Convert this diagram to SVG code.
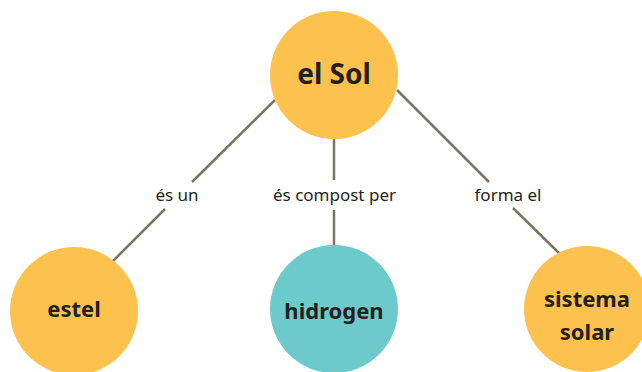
<svg xmlns="http://www.w3.org/2000/svg" width="642" height="372" viewBox="0 0 642 372">
<style>
.orange{fill:#FDC14D}
.teal{fill:#6CCACA}
.node{font-family:"Noto Sans","Open Sans",sans-serif;font-weight:bold;fill:#231F20;text-anchor:middle}
.lbl{font-family:"Noto Sans","Open Sans",sans-serif;font-size:17px;fill:#231F20;text-anchor:middle}
.ln{stroke:#77775F;stroke-width:2.5;fill:none}
</style>
<rect width="642" height="372" fill="#ffffff"/>
<g id="connectors">
<line class="ln" x1="275" y1="100" x2="192" y2="182"/>
<line class="ln" x1="165" y1="209" x2="110" y2="264"/>
<line class="ln" x1="334" y1="130" x2="334" y2="180"/>
<line class="ln" x1="334" y1="210" x2="334" y2="250"/>
<line class="ln" x1="397" y1="90" x2="489" y2="182"/>
<line class="ln" x1="513" y1="208" x2="562" y2="256"/>
<text class="lbl" x="177" y="201">és un</text>
<text class="lbl" x="334.5" y="201">és compost per</text>
<text class="lbl" x="508" y="201">forma el</text>
</g>
<g id="node-sol">
<circle class="orange" cx="334" cy="75" r="64"/>
<text class="node" x="334" y="84" font-size="28">el Sol</text>
</g>
<g id="node-estel">
<circle class="orange" cx="74" cy="311" r="64"/>
<text class="node" x="74" y="317" font-size="22">estel</text>
</g>
<g id="node-hidrogen">
<circle class="teal" cx="334" cy="309" r="64"/>
<text class="node" x="334" y="319" font-size="22">hidrogen</text>
</g>
<g id="node-sistema">
<circle class="orange" cx="587" cy="309" r="63"/>
<text class="node" x="587" y="307" font-size="22">sistema</text>
<text class="node" x="587" y="340" font-size="22">solar</text>
</g>
</svg>
